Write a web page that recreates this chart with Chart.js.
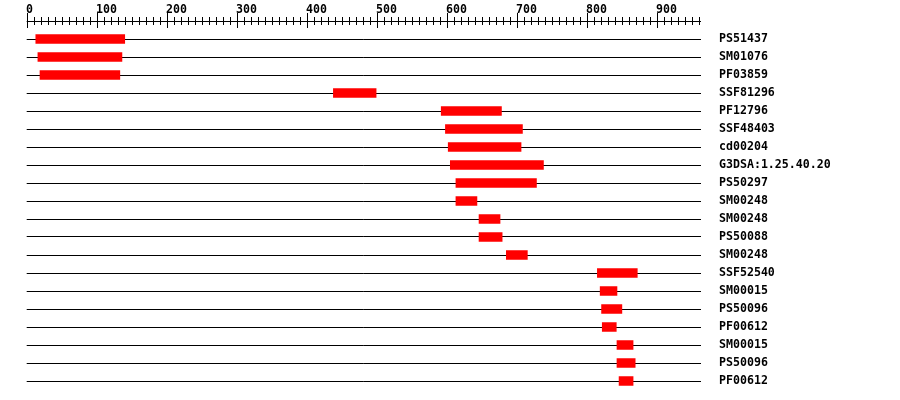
<!DOCTYPE HTML>
<html lang="EN">
  <head>
    <meta charset="utf-8">
    <title>Domain Chart</title>
    <style>
      html, body { margin: 0; padding: 0; background: #ffffff; }
      #wrap { position: relative; width: 900px; height: 400px; }
    </style>
  </head>
  <body>
    <div id="wrap">
      <canvas id="domainChart"></canvas>
    </div>

    <script src="https://cdn.jsdelivr.net/npm/chart.js"></script>
    <script>
    const labels = [
      'PS51437', 'SM01076', 'PF03859', 'SSF81296', 'PF12796',
      'SSF48403', 'cd00204', 'G3DSA:1.25.40.20', 'PS50297', 'SM00248',
      'SM00248', 'PS50088', 'SM00248', 'SSF52540', 'SM00015',
      'PS50096', 'PF00612', 'SM00015', 'PS50096', 'PF00612'
    ];
    const starts = [13, 16, 19, 438, 592, 598, 602, 605, 613, 613, 646, 646, 685, 815, 819, 821, 822, 843, 843, 846];
    const ends = [140, 136, 133, 499, 678, 708, 706, 738, 728, 643, 676, 679, 715, 872, 843, 850, 842, 866, 869, 866];
    const rulerLabels = ['0', '100', '200', '300', '400', '500', '600', '700', '800', '900'];
    const rulerMax = 963;

    const monoFont = 'bold 11.6px "DejaVu Sans Mono", "Liberation Mono", monospace';

    // ruler on top: line crossing major and minor ticks
    const ruler = {
      id: 'ruler',
      afterDraw(chart) {
        const ctx = chart.ctx;
        const x = chart.scales.x;
        const y0 = 21.5;
        ctx.save();
        ctx.strokeStyle = '#000';
        ctx.lineWidth = 1;
        ctx.beginPath();
        ctx.moveTo(x.getPixelForValue(0), y0);
        ctx.lineTo(x.getPixelForValue(rulerMax), y0);
        for (let v = 0; v <= rulerMax; v += 10) {
          const px = Math.round(x.getPixelForValue(v)) + 0.5;
          if (v % 100 === 0) {
            ctx.moveTo(px, 13);
            ctx.lineTo(px, 28);
          } else {
            ctx.moveTo(px, 17);
            ctx.lineTo(px, 25);
          }
        }
        ctx.stroke();
        ctx.fillStyle = '#000';
        ctx.font = monoFont;
        ctx.textAlign = 'left';
        ctx.textBaseline = 'alphabetic';
        rulerLabels.forEach(function(t) {
          const px = Math.round(x.getPixelForValue(Number(t)));
          ctx.fillText(t, px - 1, 12.5);
        });
        ctx.restore();
      }
    };

    const data = {
      labels: labels,
      datasets: [{
        data: starts.map(function(s, i) { return [s, ends[i]]; }),
        backgroundColor: '#ff0000',
        borderWidth: 0,
        borderSkipped: false,
        barThickness: 9
      }]
    };

    const options = {
      indexAxis: 'y',
      responsive: true,
      maintainAspectRatio: false,
      animation: false,
      devicePixelRatio: 1,
      layout: {
        padding: { left: 26.7, top: 30, bottom: 10, right: 0 }
      },
      plugins: {
        legend: { display: false },
        tooltip: { enabled: false }
      },
      scales: {
        x: {
          display: false,
          min: 0,
          max: rulerMax
        },
        y: {
          position: 'right',
          offset: true,
          border: { display: false },
          grid: {
            offset: false,
            color: '#000',
            lineWidth: 1,
            drawTicks: false
          },
          ticks: {
            padding: 18,
            color: '#000',
            font: { family: '"DejaVu Sans Mono", "Liberation Mono", monospace', size: 11.6, weight: 'bold' }
          },
          afterFit: function(scale) {
            scale.width = 199;
            scale.paddingTop = 0;
            scale.paddingBottom = 0;
          }
        }
      }
    };

    const config = {
      type: 'bar',
      data,
      options,
      plugins: [ruler]
    };

    var domainChart = new Chart(
      document.getElementById('domainChart'),
      config
    );
    </script>
  </body>
</html>
